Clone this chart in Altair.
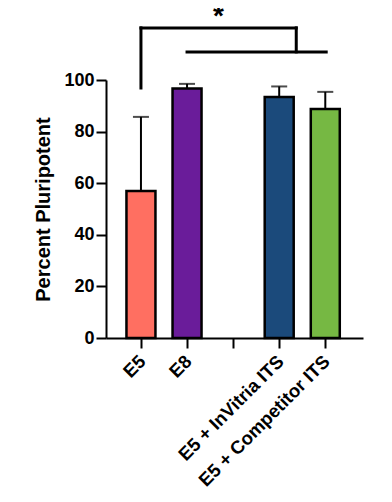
import altair as alt
import pandas as pd

categories = ["E5", "E8", "", "E5 + InVitria ITS", "E5 + Competitor ITS"]
positions = [0, 1, 2, 3, 4]
means = [57.0, 96.7, None, 93.4, 88.8]
uppers = [85.7, 98.5, None, 97.5, 95.4]
colors = ["#FF6F61", "#6A1C9A", "#FFFFFF", "#1B4A7B", "#76B843"]

# significance bracket segments (x, x2, y, y2 in data units)
br_x = [0.0, 0.0, 3.37, 1.0]
br_x2 = [3.37, 0.0, 3.37, 4.02]
br_y = [120.2, 96.9, 120.2, 110.9]
br_y2 = [120.2, 120.2, 110.9, 110.9]
star_x = [1.68]
star_y = [121.5]
star_text = ["*"]

FONT = "Liberation Sans"

bars_df = pd.DataFrame({
    "pos": positions, "cat": categories, "mean": means, "upper": uppers, "color": colors
}).dropna()
br_df = pd.DataFrame({"x": br_x, "x2": br_x2, "y": br_y, "y2": br_y2})
star_df = pd.DataFrame({"x": star_x, "y": star_y, "t": star_text})

label_arr = "[" + ",".join("'" + c + "'" for c in categories) + "]"

xscale = alt.Scale(domain=[-0.65, 4.71], nice=False, zero=False)
yscale = alt.Scale(domain=[0, 100], nice=False)

xaxis = alt.Axis(
    values=positions, labelExpr=label_arr + "[datum.value]", title=None, grid=False,
    labelAngle=-45, labelAlign="right", labelBaseline="middle", labelFont=FONT,
    labelFontSize=18.5, labelFontWeight="bold", labelColor="black", labelPadding=10,
    labelOverlap=False, labelOffset=1,
    domainColor="black", domainWidth=2, tickColor="black", tickWidth=2, tickSize=10,
)
yaxis = alt.Axis(
    values=[0, 20, 40, 60, 80, 100], title="Percent Pluripotent", grid=False,
    labelFont=FONT, labelFontSize=18, labelFontWeight="bold", labelColor="black",
    labelPadding=2, titleFont=FONT, titleFontSize=20, titleFontWeight="bold",
    titleColor="black", titlePadding=10,
    domainColor="black", domainWidth=2, tickColor="black", tickWidth=2, tickSize=10,
)

base = alt.Chart(bars_df)
bars = base.mark_bar(size=29, stroke="black", strokeWidth=2.5, orient="vertical").encode(
    x=alt.X("pos:Q", scale=xscale, axis=xaxis),
    y=alt.Y("mean:Q", scale=yscale, axis=yaxis),
    fill=alt.Fill("color:N", scale=None),
)
err = base.mark_rule(color="black", strokeWidth=2).encode(
    x="pos:Q", y="mean:Q", y2="upper:Q"
)
cap = base.mark_tick(orient="horizontal", size=16, thickness=2, color="black").encode(
    x="pos:Q", y="upper:Q"
)
bracket = alt.Chart(br_df).mark_rule(color="black", strokeWidth=3, strokeCap="square").encode(
    x="x:Q", x2="x2:Q", y="y:Q", y2="y2:Q"
)
star = alt.Chart(star_df).mark_text(
    font=FONT, fontSize=28, fontWeight="bold", color="black", baseline="alphabetic"
).encode(x="x:Q", y="y:Q", text="t:N")

chart = alt.layer(err, cap, bars, bracket, star).properties(
    width=257, height=258,
    autosize=alt.AutoSizeParams(type="none"),
    padding={"left": 98, "top": 72, "right": 21, "bottom": 156},
).configure_view(stroke=None)

chart.save("out.html", embed_options={"renderer": "svg", "actions": False})
